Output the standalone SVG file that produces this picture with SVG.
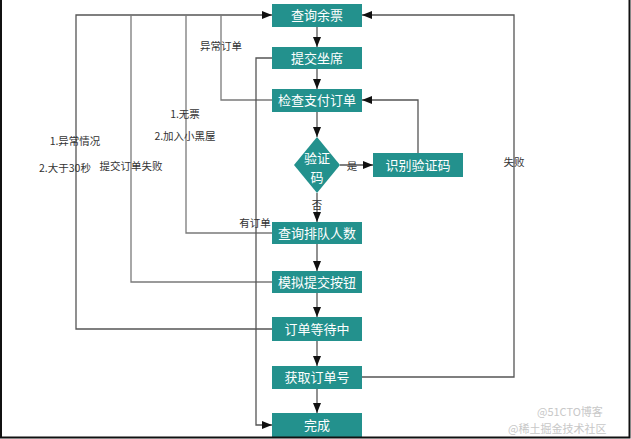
<svg xmlns="http://www.w3.org/2000/svg" width="631" height="439" viewBox="0 0 631 439">
<style>
.box{fill:#23918d;}
.bt{font-family:"Noto Sans CJK SC","Noto Sans",sans-serif;font-size:13px;fill:#ffffff;text-anchor:middle;}
.lb{font-family:"Noto Sans CJK SC","Noto Sans",sans-serif;font-size:10.5px;fill:#333333;text-anchor:middle;}
.ln{fill:none;stroke:#7a7a7a;stroke-width:1.3;}
.ar{fill:none;stroke:#555555;stroke-width:1.3;marker-end:url(#ah);}
.wm{font-family:"Noto Sans CJK SC","Noto Sans",sans-serif;font-size:11px;fill:#c8c8c8;}
</style>
<defs>
<marker id="ah" viewBox="0 0 10 8" refX="10" refY="4" markerWidth="10" markerHeight="8" markerUnits="userSpaceOnUse" orient="auto">
<path d="M0,0 L10,4 L0,8 z" fill="#111111"/>
</marker>
</defs>
<rect x="0" y="0" width="631" height="439" fill="#ffffff"/>
<g id="connectors">
<path class="ar" d="M317,27 V47"/>
<path class="ar" d="M317,69 V89"/>
<path class="ar" d="M317,112 V137"/>
<path class="ar" d="M317,193 V222"/>
<path class="ar" d="M317,244 V271"/>
<path class="ar" d="M317,293 V317"/>
<path class="ar" d="M317,341 V366"/>
<path class="ar" d="M317,389 V413"/>
<path class="ar" d="M340,165 H373"/>
<path class="ar" d="M418,153 V100 H362"/>
<path class="ar" d="M362,377 H514 V15 H362"/>
<path class="ar" d="M272,329 H76 V15 H272"/>
<path class="ln" d="M272,282 H131 V15"/>
<path class="ln" d="M272,233 H186 V15"/>
<path class="ln" d="M272,100 H221 V15"/>
<path class="ar" d="M272,58 H256 V425 H272"/>
</g>
<g id="labels">
<text class="lb" x="221" y="50">异常订单</text>
<text class="lb" x="75" y="145">1.异常情况</text>
<text class="lb" x="65" y="172">2.大于30秒</text>
<text class="lb" x="131" y="170">提交订单失败</text>
<text class="lb" x="185" y="118">1.无票</text>
<text class="lb" x="185" y="140">2.加入小黑屋</text>
<text class="lb" x="255" y="227">有订单</text>
<text class="lb" x="514" y="166">失败</text>
<text class="lb" x="352" y="170">是</text>
<text class="lb" x="317" y="209">否</text>
</g>
<g id="n1"><rect class="box" x="272" y="4" width="90" height="23"/><text class="bt" x="317" y="20">查询余票</text></g>
<g id="n2"><rect class="box" x="272" y="47" width="90" height="22"/><text class="bt" x="317" y="63">提交坐席</text></g>
<g id="n3"><rect class="box" x="272" y="89" width="90" height="23"/><text class="bt" x="317" y="105">检查支付订单</text></g>
<g id="n4"><path class="box" d="M317,137 L340,165 L317,193 L294,165 z"/><text class="bt" x="317" y="163">验证</text><text class="bt" x="317" y="182">码</text></g>
<g id="n5"><rect class="box" x="373" y="153" width="90" height="24"/><text class="bt" x="418" y="170">识别验证码</text></g>
<g id="n6"><rect class="box" x="272" y="222" width="90" height="22"/><text class="bt" x="317" y="238">查询排队人数</text></g>
<g id="n7"><rect class="box" x="272" y="271" width="90" height="22"/><text class="bt" x="317" y="287">模拟提交按钮</text></g>
<g id="n8"><rect class="box" x="272" y="317" width="90" height="24"/><text class="bt" x="317" y="334">订单等待中</text></g>
<g id="n9"><rect class="box" x="272" y="366" width="90" height="23"/><text class="bt" x="317" y="382">获取订单号</text></g>
<g id="n10"><rect class="box" x="272" y="413" width="90" height="24"/><text class="bt" x="317" y="430">完成</text></g>
<text class="wm" x="537" y="416">@51CTO博客</text>
<text class="wm" x="508" y="433" fill="#b8b8b8" font-size="12">@稀土掘金技术社区</text>
<path d="M1,0 V437.5 H629.5 V0" fill="none" stroke="#111111" stroke-width="2"/>
</svg>
